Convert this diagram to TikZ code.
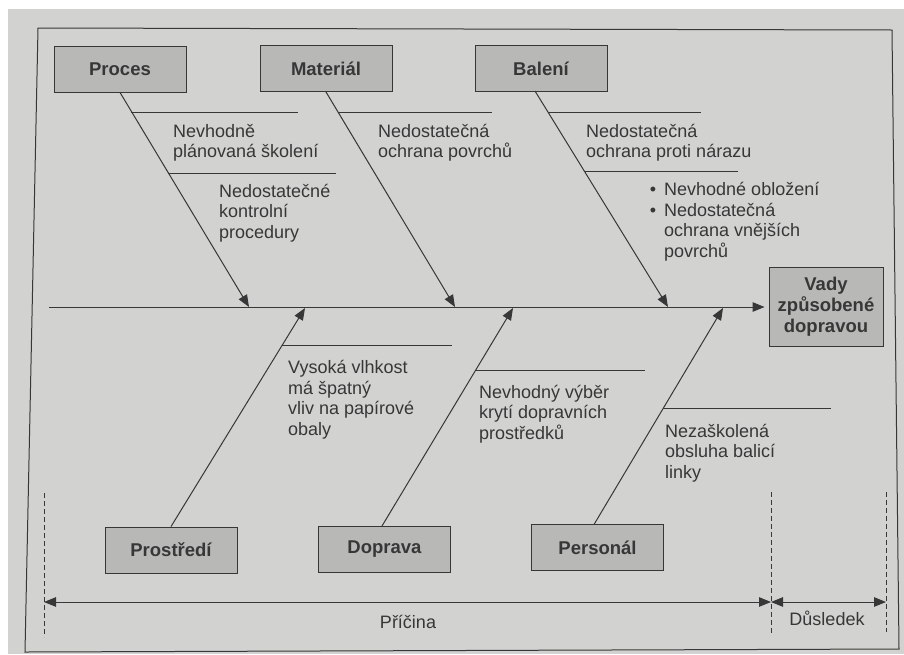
\documentclass[tikz,border=0pt]{standalone}
\usepackage{fontspec}
\setmainfont{Liberation Sans}
\usetikzlibrary{arrows.meta}
\definecolor{paper}{RGB}{210,210,208}
\definecolor{boxgray}{RGB}{184,184,182}
\definecolor{ink}{RGB}{55,55,55}
\begin{document}
\begin{tikzpicture}[x=1pt,y=-1pt,
  cat/.style={draw=ink,line width=0.9pt,fill=boxgray,minimum width=132pt,minimum height=46pt,
    inner sep=0pt,font=\fontsize{18.5}{21}\selectfont\bfseries,text=ink},
  bone/.style={draw=ink,line width=1pt},
  tip/.style={-{Triangle[length=12pt,width=9.5pt]}},
  % cause texts are placed by the baseline of their last line
  cause/.style={anchor=base west,inner sep=0pt,align=left,text=ink,
    font=\fontsize{18}{20.5}\selectfont},
  guide/.style={draw=ink,line width=0.8pt,dash pattern=on 5pt off 3pt},
  span/.style={draw=ink,line width=1pt,{Triangle[length=12pt,width=9.5pt]}-{Triangle[length=12pt,width=9.5pt]}}]
\useasboundingbox (0,0) rectangle (904,654);
% sheet and frame
\fill[white] (0,0) rectangle (904,654);
\fill[paper] (8,9) rectangle (904,654);
\draw[ink,line width=1pt] (38,28) -- (892,30) -- (899,649) -- (25,652) -- cycle;

% category boxes
\node[cat] (proces) at (120,69) {Proces};
\node[cat] (material) at (326,68.5) {Materiál};
\node[cat] (baleni) at (541,68.5) {Balení};
\node[cat] (prostredi) at (171,550) {Prostředí};
\node[cat] (doprava) at (384.5,549.5) {Doprava};
\node[cat] (personal) at (597.5,547.5) {Personál};
\node[cat,minimum width=114pt,minimum height=79pt,align=center] (effect) at (826,306.5)
  {Vady\\způsobené\\dopravou};

% spine
\coordinate (spinestart) at (49,307);
\draw[bone,tip,shorten >=4pt] (spinestart) -- (effect.west |- spinestart);

% tips of the main bones on the spine
\coordinate (tproces) at (249,307);
\coordinate (tmaterial) at (455,307);
\coordinate (tbaleni) at (668,307);
\coordinate (tprostredi) at (305,308);
\coordinate (tdoprava) at (513,308);
\coordinate (tpersonal) at (723,308);

\coordinate (sbaleni) at (535,91);
\coordinate (sdoprava) at (382,526);
\coordinate (spersonal) at (594,524.5);

\draw[bone,tip] (proces.south) -- (tproces);
\draw[bone,tip] (material.south) -- (tmaterial);
\draw[bone,tip] (sbaleni) -- (tbaleni);
\draw[bone,tip] (prostredi.north) -- (tprostredi);
\draw[bone,tip] (sdoprava) -- (tdoprava);
\draw[bone,tip] (spersonal) -- (tpersonal);

% small bones
\coordinate (p1a) at (131,112); \coordinate (p1b) at (298,112);
\coordinate (p2a) at (168,173); \coordinate (p2b) at (336,173);
\coordinate (m1a) at (338,112); \coordinate (m1b) at (492,112);
\coordinate (b1a) at (548,112); \coordinate (b1b) at (701,112);
\coordinate (b2a) at (585,171); \coordinate (b2b) at (738,171);
\coordinate (e1a) at (282,345); \coordinate (e1b) at (452,345);
\coordinate (d1a) at (476,370); \coordinate (d1b) at (645,370);
\coordinate (r1a) at (663,408); \coordinate (r1b) at (831,408);
\foreach \a/\b in {p1a/p1b,p2a/p2b,m1a/m1b,b1a/b1b,b2a/b2b,e1a/e1b,d1a/d1b,r1a/r1b}
  \draw[bone] (\a) -- (\b);

% cause texts
\node[cause] (tp1) at (173,157.5) {Nevhodně\\plánovaná školení};
\node[cause] (tp2) at (219,238) {Nedostatečné\\kontrolní\\procedury};
\node[cause] (tm1) at (378,157.5) {Nedostatečná\\ochrana povrchů};
\node[cause] (tb1) at (586,157.5) {Nedostatečná\\ochrana proti nárazu};
\node[cause] (tb2) at (664,257) {\llap{\textbullet\hspace{8pt}}Nevhodné obložení\\
  \llap{\textbullet\hspace{8pt}}Nedostatečná\\ochrana vnějších\\povrchů};
\node[cause] (te1) at (288,435) {Vysoká vlhkost\\má špatný\\vliv na papírové\\obaly};
\node[cause] (td1) at (479,439) {Nevhodný výběr\\krytí dopravních\\prostředků};
\node[cause] (tr1) at (665,478) {Nezaškolená\\obsluha balicí\\linky};

% cause / effect extent
\coordinate (g1t) at (44,493); \coordinate (g1b) at (44,637);
\coordinate (g2t) at (771,492); \coordinate (g2b) at (771,634);
\coordinate (g3t) at (886,492); \coordinate (g3b) at (886,632);
\draw[guide] (g1t) -- (g1b);
\draw[guide] (g2t) -- (g2b);
\draw[guide] (g3t) -- (g3b);
\coordinate (a1) at (44,602); \coordinate (a2) at (771,602); \coordinate (a3) at (886,602);
\draw[span] (a1) -- (a2);
\draw[span] (a2) -- (a3);
\node[text=ink,font=\fontsize{18}{20}\selectfont] (pricina) at (408,622) {Příčina};
\node[text=ink,font=\fontsize{18}{20}\selectfont] (dusledek) at (827,618) {Důsledek};
\end{tikzpicture}
\end{document}
